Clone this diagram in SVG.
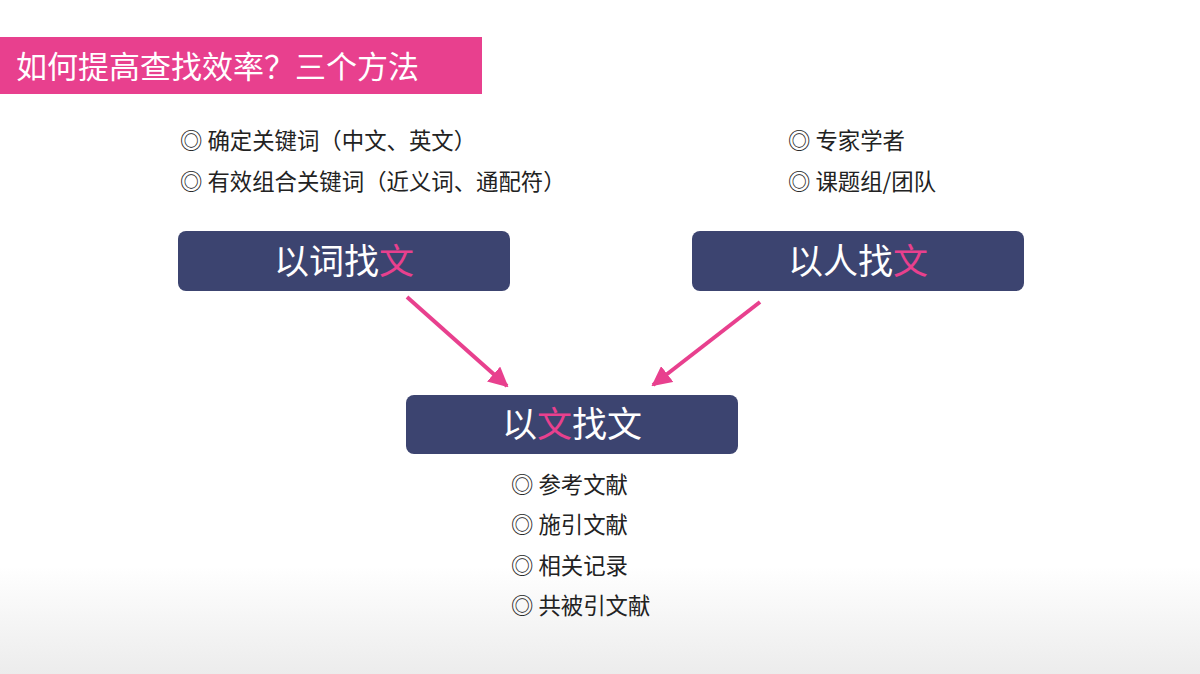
<svg xmlns="http://www.w3.org/2000/svg" width="1200" height="674" viewBox="0 0 1200 674">
<defs>
<linearGradient id="bg" x1="0" y1="0" x2="0" y2="1">
<stop offset="0" stop-color="#ffffff"/>
<stop offset="0.84" stop-color="#ffffff"/>
<stop offset="1" stop-color="#ececec"/>
</linearGradient>
<marker id="ah" viewBox="0 0 10 10" refX="9" refY="5" markerWidth="5" markerHeight="5" orient="auto" markerUnits="strokeWidth">
<path d="M0,0 L10,5 L0,10 z" fill="#e8408e"/>
</marker>
<style>
.cjk{font-family:"Noto Sans CJK SC","Noto Sans",sans-serif;}
.item{font-size:22.4px;fill:#222;}
.box{fill:#3c4470;}
.btxt{font-size:35px;fill:#ffffff;text-anchor:middle;}
.hl{fill:#e8408e;}
.conn{stroke:#e8408e;stroke-width:4;fill:none;marker-end:url(#ah);}
</style>
</defs>
<rect width="1200" height="674" fill="url(#bg)"/>
<g id="title">
<rect x="0" y="37" width="482" height="57" fill="#e8408e"/>
<text x="16" y="78" class="cjk" font-size="31" fill="#ffffff">如何提高查找效率？三个方法</text>
</g>
<g id="list-word" class="cjk item">
<text x="180" y="149">◎ 确定关键词（中文、英文）</text>
<text x="180" y="190">◎ 有效组合关键词（近义词、通配符）</text>
</g>
<g id="list-person" class="cjk item">
<text x="788" y="149">◎ 专家学者</text>
<text x="788" y="190">◎ 课题组/团队</text>
</g>
<g id="node-word">
<rect class="box" x="178" y="231" width="332" height="60" rx="8"/>
<text class="cjk btxt" x="344" y="274">以词找<tspan class="hl">文</tspan></text>
</g>
<g id="node-person">
<rect class="box" x="692" y="231" width="332" height="60" rx="8"/>
<text class="cjk btxt" x="858" y="274">以人找<tspan class="hl">文</tspan></text>
</g>
<g id="node-doc">
<rect class="box" x="406" y="395" width="332" height="59" rx="8"/>
<text class="cjk btxt" x="572" y="437">以<tspan class="hl">文</tspan>找文</text>
</g>
<g id="connectors">
<line class="conn" x1="407" y1="297" x2="507" y2="386"/>
<line class="conn" x1="760" y1="302" x2="653" y2="385"/>
</g>
<g id="list-doc" class="cjk item">
<text x="511" y="493">◎ 参考文献</text>
<text x="511" y="533">◎ 施引文献</text>
<text x="511" y="574">◎ 相关记录</text>
<text x="511" y="614">◎ 共被引文献</text>
</g>
</svg>
